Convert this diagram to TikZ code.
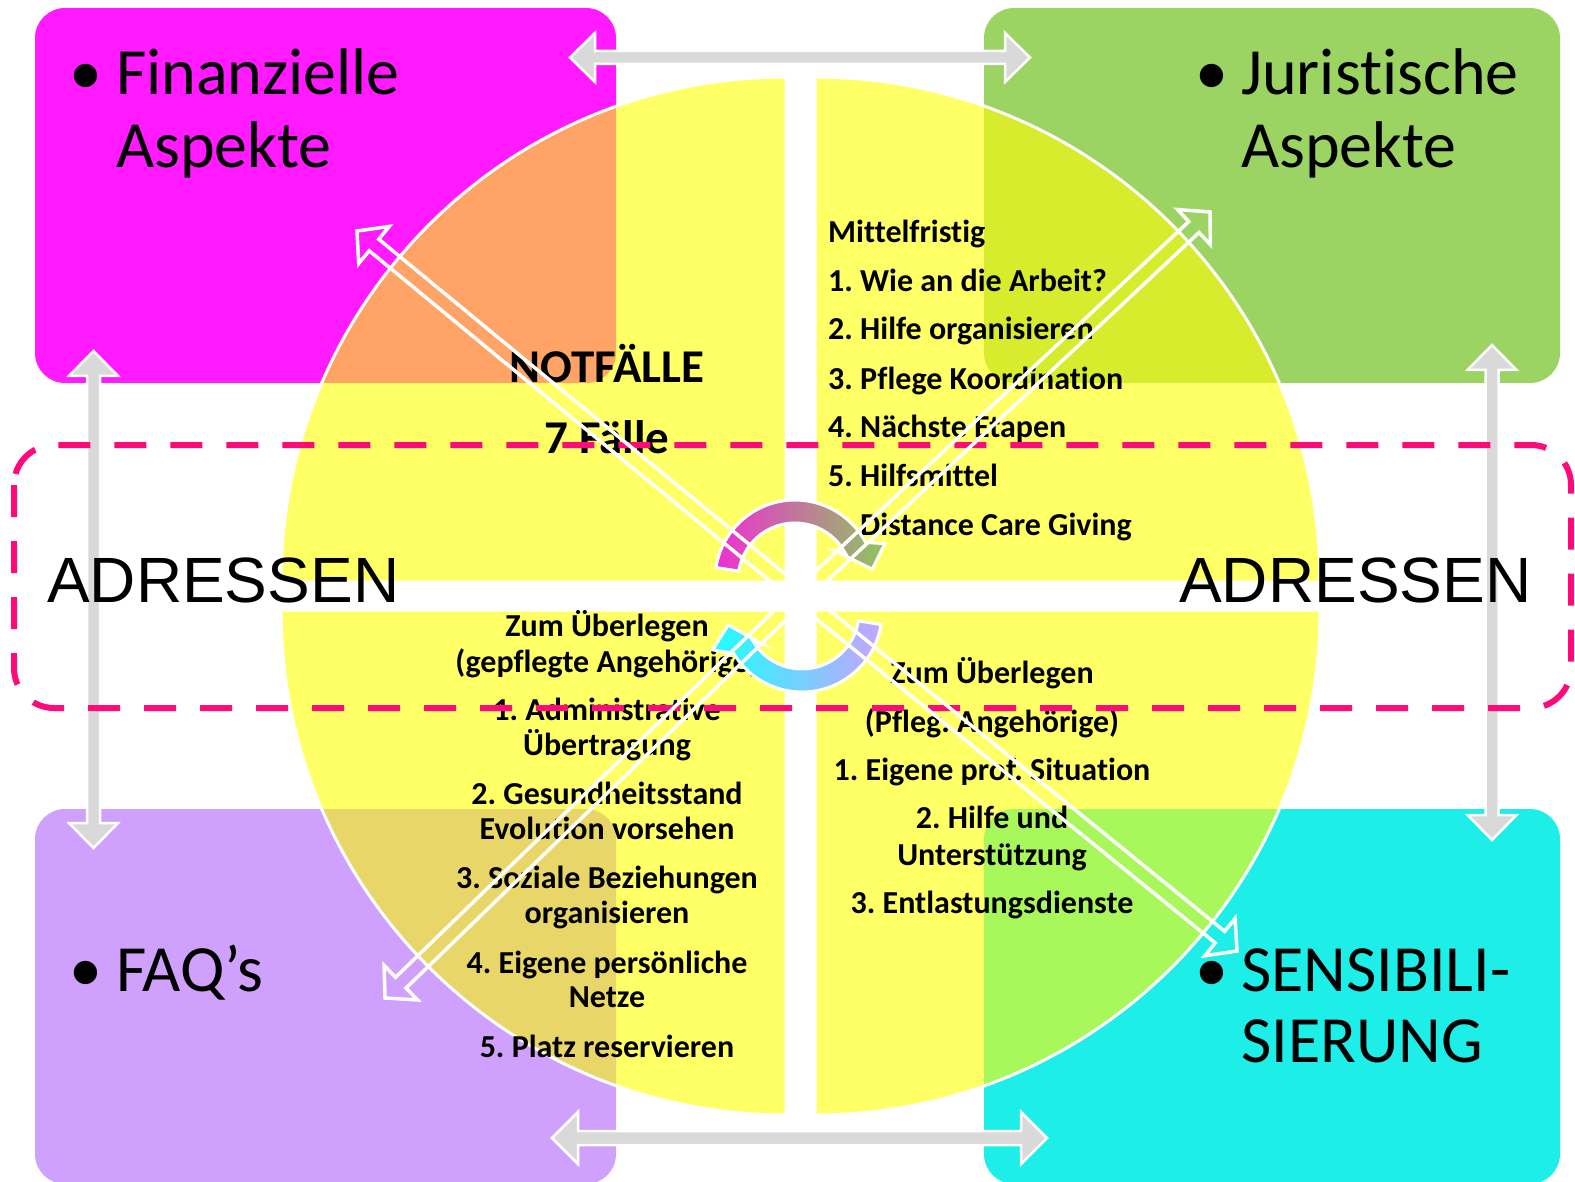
\documentclass[tikz,border=0pt]{standalone}
\usepackage{fontspec}
\setmainfont{Carlito}[Ligatures=NoCommon]
\newfontfamily\arialfont{Liberation Sans}
\usetikzlibrary{calc}
\frenchspacing
\definecolor{cMag}{HTML}{FF1AFF}
\definecolor{cGrn}{HTML}{9BD463}
\definecolor{cPur}{HTML}{D0A1FC}
\definecolor{cCya}{HTML}{1DEEE8}
\definecolor{cYel}{HTML}{FFFF66}
\definecolor{cOra}{HTML}{FFA466}
\definecolor{cYG}{HTML}{D6EC2C}
\definecolor{cKha}{HTML}{E8D768}
\definecolor{cLim}{HTML}{A8F85B}
\definecolor{cPink}{HTML}{FF0A78}
\definecolor{cGray}{HTML}{D9D9D9}
\definecolor{cArcA}{HTML}{EE2FD2}
\definecolor{cArcB}{HTML}{8FC75E}
\definecolor{cArcC}{HTML}{1CFFFF}
\definecolor{cArcD}{HTML}{C7A3FF}
\tikzset{
  listtxt/.style={inner sep=0pt, font=\fontsize{32}{32}\selectfont\bfseries},
  headtxt/.style={inner sep=0pt, font=\fontsize{47}{47}\selectfont\bfseries},
  bigtxt/.style={inner sep=0pt, font=\fontsize{66}{66}\selectfont},
  adrtxt/.style={inner sep=0pt, font=\arialfont\fontsize{64}{64}\selectfont},
  grayarrow/.style={fill=cGray, draw=white, line width=2.5pt, line join=miter},
  warrow/.style={draw=white, line width=3.5pt, line join=miter},
  quadline/.style={draw=white, line width=3pt},
  arcarrow/.style={draw=white, line width=3pt, line join=miter},
}
\newcommand{\wArrow}[3]{%
  \coordinate (#1T) at #2; \coordinate (#1P) at #3;
  \coordinate (#1B) at ($(#1P)!22pt!(#1T)$);
  \draw[warrow] ($(#1T)!7.5pt!-90:(#1P)$) -- ($(#1B)!7.5pt!90:(#1T)$) -- ($(#1B)!24pt!90:(#1T)$) -- (#1P) -- ($(#1B)!24pt!-90:(#1T)$) -- ($(#1B)!7.5pt!-90:(#1T)$) -- ($(#1T)!7.5pt!90:(#1P)$) -- cycle;}
\begin{document}
\begin{tikzpicture}[x=1pt,y=-1pt]
\useasboundingbox (0,0) rectangle (1575,1182);
\fill[white] (0,0) rectangle (1575,1182);
% corner boxes
\def\boxTL{(35,8) rectangle (616,383)}
\def\boxTR{(984,8) rectangle (1560,383)}
\def\boxBL{(35,809) rectangle (616,1184)}
\def\boxBR{(984,809) rectangle (1560,1184)}
\fill[cMag, rounded corners=30pt] \boxTL;
\fill[cGrn, rounded corners=30pt] \boxTR;
\fill[cPur, rounded corners=30pt] \boxBL;
\fill[cCya, rounded corners=30pt] \boxBR;
% quadrants
\def\qTL{(786,582) -- (281,582) arc[start angle=180,end angle=270,radius=505] -- cycle}
\def\qTR{(815,582) -- (815,77) arc[start angle=270,end angle=360,radius=505] -- cycle}
\def\qBR{(815,610) -- (1320,610) arc[start angle=0,end angle=90,radius=505] -- cycle}
\def\qBL{(786,610) -- (786,1115) arc[start angle=90,end angle=180,radius=505] -- cycle}
\fill[cYel] \qTL; \fill[cYel] \qTR; \fill[cYel] \qBR; \fill[cYel] \qBL;
\begin{scope}\clip \qTL; \fill[cOra, rounded corners=30pt] \boxTL; \end{scope}
\begin{scope}\clip \qTR; \fill[cYG, rounded corners=30pt] \boxTR; \end{scope}
\begin{scope}\clip \qBL; \fill[cKha, rounded corners=30pt] \boxBL; \end{scope}
\begin{scope}\clip \qBR; \fill[cLim, rounded corners=30pt] \boxBR; \end{scope}
\draw[quadline] \qTL; \draw[quadline] \qTR; \draw[quadline] \qBR; \draw[quadline] \qBL;
% gray double arrows
\draw[grayarrow] (570,57.5) -- (595,33) -- (595,51) -- (1005,51) -- (1005,33) -- (1030,57.5) -- (1005,82) -- (1005,64) -- (595,64) -- (595,82) -- cycle;
\draw[grayarrow] (552,1138) -- (578,1112) -- (578,1131) -- (1021,1131) -- (1021,1112) -- (1047,1138) -- (1021,1164) -- (1021,1145) -- (578,1145) -- (578,1164) -- cycle;
\draw[grayarrow] (93.5,351) -- (118,376) -- (100,376) -- (100,823) -- (118,823) -- (93.5,848) -- (69,823) -- (87,823) -- (87,376) -- (69,376) -- cycle;
\draw[grayarrow] (1492,345) -- (1516.5,370) -- (1498.5,370) -- (1498.5,815) -- (1516.5,815) -- (1492,840) -- (1467.5,815) -- (1485.5,815) -- (1485.5,370) -- (1467.5,370) -- cycle;
% corner labels
\node[bigtxt, anchor=base west] (b1) at (69,95) {•};
\node[bigtxt, anchor=base west] (f1) at (116,95) {Finanzielle};
\node[bigtxt, anchor=base west] (f2) at (116,168) {Aspekte};
\node[bigtxt, anchor=base west] (b2) at (1195,95) {•};
\node[bigtxt, anchor=base west] (j1) at (1241,95) {Juristische};
\node[bigtxt, anchor=base west] (j2) at (1241,168) {Aspekte};
\node[bigtxt, anchor=base west] (b3) at (69,991) {•};
\node[bigtxt, anchor=base west] (q1) at (116,991) {FAQ’s};
\node[bigtxt, anchor=base west] (b4) at (1195,991) {•};
\node[bigtxt, anchor=base west] (s1) at (1241,991) {SENSIBILI-};
\node[bigtxt, anchor=base west] (s2) at (1241,1062) {SIERUNG};
\node[adrtxt, anchor=base west] (a1) at (47,602) {ADRESSEN};
\node[adrtxt, anchor=base west] (a2) at (1179,602) {ADRESSEN};
% NOTFAELLE
\node[headtxt, anchor=base] (n1) at (607,382) {NOTFÄLLE};
\node[headtxt, anchor=base] (n2) at (607,453) {7 Fälle};
% Mittelfristig list
\node[listtxt, anchor=base west] (m0) at (828,243) {Mittelfristig};
\node[listtxt, anchor=base west] (m1) at (828,292) {1. Wie an die Arbeit?};
\node[listtxt, anchor=base west] (m2) at (828,340) {2. Hilfe organisieren};
\node[listtxt, anchor=base west] (m3) at (828,389) {3. Pflege Koordination};
\node[listtxt, anchor=base west] (m4) at (828,437) {4. Nächste Etapen};
\node[listtxt, anchor=base west] (m5) at (828,486) {5. Hilfsmittel};
\node[listtxt, anchor=base west] (m6) at (828,535) {6. Distance Care Giving};
% bottom-left list
\node[listtxt, anchor=base] (l0) at (607,636) {Zum Überlegen};
\node[listtxt, anchor=base] (l1) at (607,672) {(gepflegte Angehörige)};
\node[listtxt, anchor=base] (l2) at (607,720) {1. Administrative};
\node[listtxt, anchor=base] (l3) at (607,755) {Übertragung};
\node[listtxt, anchor=base] (l4) at (607,804) {2. Gesundheitsstand};
\node[listtxt, anchor=base] (l5) at (607,839) {Evolution vorsehen};
\node[listtxt, anchor=base] (l6) at (607,888) {3. Soziale Beziehungen};
\node[listtxt, anchor=base] (l7) at (607,923) {organisieren};
\node[listtxt, anchor=base] (l8) at (607,973) {4. Eigene persönliche};
\node[listtxt, anchor=base] (l9) at (607,1007) {Netze};
\node[listtxt, anchor=base] (l10) at (607,1057) {5. Platz reservieren};
% bottom-right list
\node[listtxt, anchor=base] (r0) at (992,683) {Zum Überlegen};
\node[listtxt, anchor=base] (r1) at (992,732) {(Pfleg. Angehörige)};
\node[listtxt, anchor=base] (r2) at (992,780) {1. Eigene prof. Situation};
\node[listtxt, anchor=base] (r3) at (992,828) {2. Hilfe und};
\node[listtxt, anchor=base] (r4) at (992,865) {Unterstützung};
\node[listtxt, anchor=base] (r5) at (992,913) {3. Entlastungsdienste};
% dashed frame
\draw[cPink, line width=6pt, dash pattern=on 32pt off 24pt, rounded corners=40pt] (14,445) rectangle (1571,708);
% circular arrows
\coordinate (c1) at (795,580);
\shadedraw[left color=cArcA, right color=cArcB, arcarrow]
  ($(c1)+(189:80)$) arc[start angle=189,end angle=332,radius=80]
  -- ($(c1)+(338:97)$) -- ($(c1)+(352:78)$) -- ($(c1)+(325:50)$) -- ($(c1)+(332:57)$)
  arc[start angle=332,end angle=189,radius=57] -- cycle;
\coordinate (c2) at (802,612);
\shadedraw[left color=cArcC, right color=cArcD, arcarrow]
  ($(c2)+(9:80)$) arc[start angle=9,end angle=149,radius=80]
  -- ($(c2)+(157:97)$) -- ($(c2)+(170:75)$) -- ($(c2)+(141:51)$) -- ($(c2)+(149:57)$)
  arc[start angle=149,end angle=9,radius=57] -- cycle;
% diagonal white arrows
\wArrow{nw}{(800,596)}{(357,231)}
\wArrow{ne}{(800,596)}{(1210,212)}
\wArrow{sw}{(800,596)}{(385,998)}
\wArrow{se}{(800,596)}{(1237,951)}
\end{tikzpicture}
\end{document}
